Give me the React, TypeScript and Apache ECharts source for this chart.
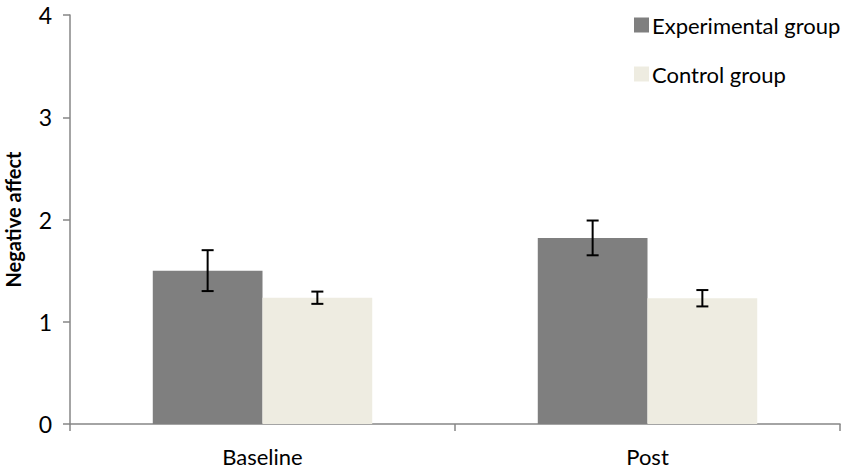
import React, { useEffect, useRef } from "react";
import * as echarts from "echarts";

const categories = ["Baseline", "Post"];
const seriesNames = ["Experimental group", "Control group"];
const experimentalMeans = [1.5, 1.82];
const experimentalErrors = [0.2, 0.17];
const controlMeans = [1.235, 1.23];
const controlErrors = [0.06, 0.08];
const yTicks = [0, 1, 2, 3, 4];

const FONT = "Lato, 'Open Sans', sans-serif";
const BAR_FRACTION = 0.57;

function errorSeries(name: string, means: number[], errs: number[], side: number) {
  const data = means.map((m, i) => [i, m - errs[i], m + errs[i]]);
  return {
    type: "custom",
    name: name + " error",
    silent: true,
    z: 10,
    data,
    encode: { x: 0, y: [1, 2] },
    renderItem: (params: any, api: any) => {
      const idx = api.value(0);
      const lo = api.coord([idx, api.value(1)]);
      const hi = api.coord([idx, api.value(2)]);
      const band = api.size([1, 0])[0];
      const bw = (band * BAR_FRACTION) / 2;
      const x = lo[0] + side * bw / 2;
      const cap = 6;
      const style = { stroke: "#000", lineWidth: 2 };
      return {
        type: "group",
        children: [
          { type: "line", shape: { x1: x, y1: hi[1], x2: x, y2: lo[1] }, style },
          { type: "line", shape: { x1: x - cap, y1: hi[1], x2: x + cap, y2: hi[1] }, style },
          { type: "line", shape: { x1: x - cap, y1: lo[1], x2: x + cap, y2: lo[1] }, style },
        ],
      };
    },
  };
}

export default function App() {
  const ref = useRef<HTMLDivElement>(null);
  useEffect(() => {
    if (!ref.current) return;
    const chart = echarts.init(ref.current, undefined, { renderer: "svg" });
    chart.setOption({
      animation: false,
      backgroundColor: "#fff",
      grid: { left: 70, right: 10, top: 15, bottom: 47, outerBoundsMode: "none", containLabel: false },
      legend: {
        orient: "vertical",
        left: 629,
        top: 9,
        itemWidth: 15,
        itemHeight: 15,
        itemGap: 27,
        icon: "rect",
        data: seriesNames,
        textStyle: { fontFamily: FONT, fontSize: 22, color: "#000", padding: [0, 0, 0, -2] },
      },
      xAxis: {
        type: "category",
        data: categories,
        axisLine: { lineStyle: { color: "#868686", width: 1.5 } },
        axisTick: { show: true, length: 7, lineStyle: { color: "#868686", width: 1.5 } },
        axisLabel: { fontFamily: FONT, fontSize: 22, color: "#000", margin: 21 },
      },
      yAxis: {
        type: "value",
        min: 0,
        max: 4,
        interval: 1,
        name: "Negative affect",
        nameLocation: "middle",
        nameGap: 48,
        nameTextStyle: { fontFamily: FONT, fontSize: 20, lineHeight: 18, fontWeight: "bold", color: "#000" },
        axisLine: { show: true, lineStyle: { color: "#868686", width: 1.5 } },
        axisTick: { show: true, length: 7, lineStyle: { color: "#868686", width: 1.5 } },
        splitLine: { show: false },
        axisLabel: {
          fontFamily: FONT,
          fontSize: 23,
          color: "#000",
          margin: 18,
          formatter: (v: number) => (yTicks.includes(v) ? String(v) : ""),
        },
      },
      series: [
        {
          type: "bar",
          name: seriesNames[0],
          data: experimentalMeans,
          barGap: "0%",
          barCategoryGap: "43%",
          itemStyle: { color: "#7f7f7f" },
        },
        {
          type: "bar",
          name: seriesNames[1],
          data: controlMeans,
          barGap: "0%",
          barCategoryGap: "43%",
          itemStyle: { color: "#eeece1" },
        },
        errorSeries(seriesNames[0], experimentalMeans, experimentalErrors, -1),
        errorSeries(seriesNames[1], controlMeans, controlErrors, 1),
      ],
    });
    return () => chart.dispose();
  }, []);
  return <div ref={ref} style={{ width: 850, height: 471, position: "absolute", left: 0, top: 0 }} />;
}
